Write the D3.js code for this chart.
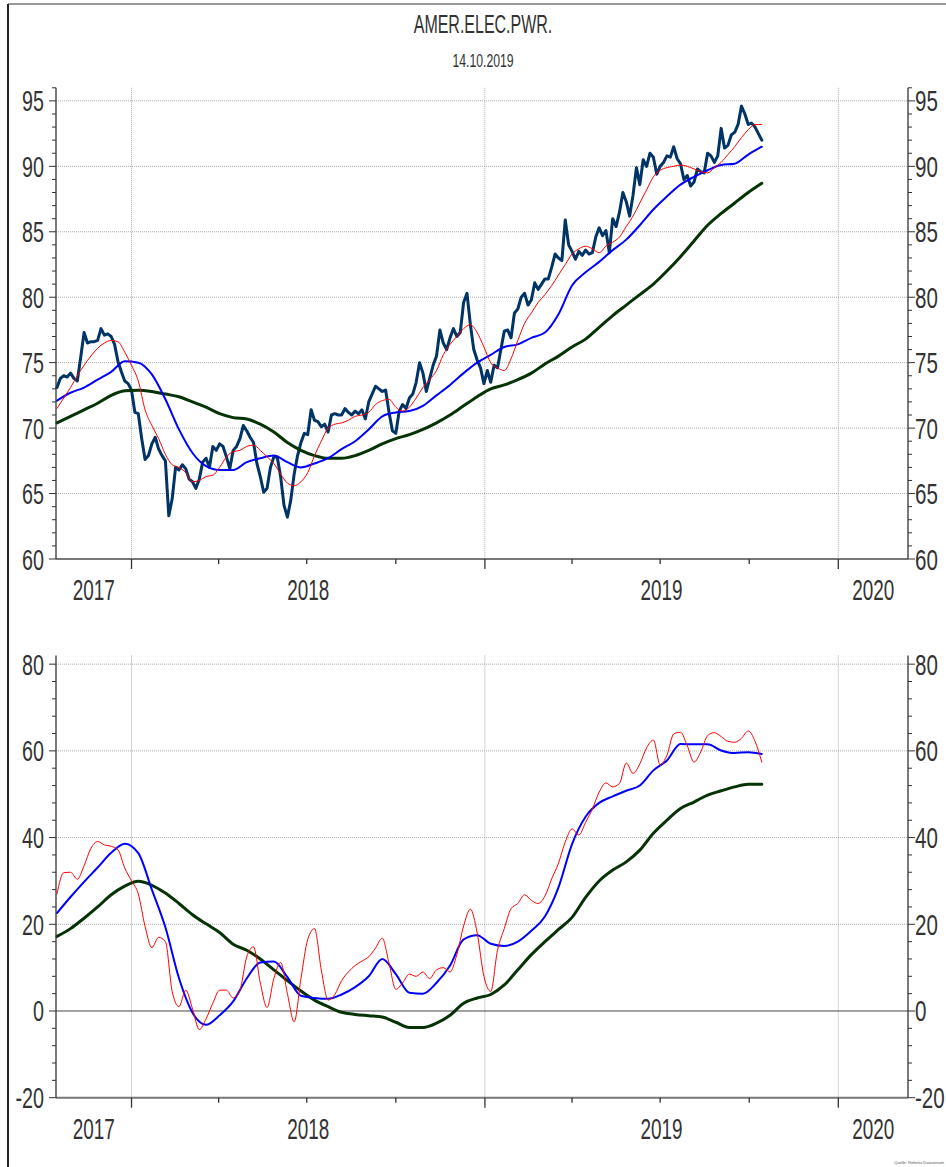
<!DOCTYPE html>
<html><head><meta charset="utf-8">
<script src="https://cdn.jsdelivr.net/npm/d3@7"></script>
<style>body{margin:0;background:#fff}svg{display:block}</style>
</head><body>
<script>
// ---------- DATA ----------
const titleText = "AMER.ELEC.PWR.";
const dateText = "14.10.2019";
const footerText = "Quelle: Refinitiv Datastream";
const yearLabels = [2017, 2018, 2019, 2020];
const topTicks = [60, 65, 70, 75, 80, 85, 90, 95];
const bottomTicks = [-20, 0, 20, 40, 60, 80];

// price: every 3.5 days starting 2017-10-16
const priceStart = "2017-10-16";
const priceStepDays = 3.5;
const priceValues = [
73.1,73.8,74.0,73.9,74.2,73.8,73.6,75.4,77.3,76.5,
76.6,76.6,76.7,77.6,77.1,77.2,77.0,76.4,75.1,74.3,
73.6,73.4,72.9,71.2,71.1,69.2,67.6,67.9,68.8,69.3,
68.4,67.9,67.5,63.3,64.6,67.0,66.8,67.2,66.9,66.1,
65.9,65.4,66.1,67.4,67.7,67.0,68.6,68.3,68.8,68.6,
67.8,66.9,68.3,68.6,69.2,70.2,69.8,69.3,68.9,67.3,
66.3,65.1,65.4,67.0,67.8,67.8,66.3,64.1,63.2,64.5,
66.5,67.9,68.9,69.6,69.5,71.4,70.6,70.5,70.1,70.3,
69.7,71.0,71.1,71.0,
71.0,71.5,71.2,71.0,71.3,71.1,71.4,70.7,72.0,72.6,
73.2,73.0,72.8,72.9,71.2,69.8,69.6,71.3,71.8,71.5,
72.3,72.6,73.5,75.0,74.2,72.8,73.8,74.8,75.5,77.5,
76.5,76.0,76.9,77.6,77.0,77.3,79.6,80.3,77.9,76.0,
75.2,74.6,73.4,74.4,73.5,74.8,74.6,
76.0,77.4,77.5,76.9,78.8,79.1,80.0,80.3,79.4,79.8,
81.1,80.6,81.0,81.4,81.4,82.3,83.3,83.0,82.8,85.9,
84.0,83.5,82.9,83.5,83.2,83.6,83.3,83.4,84.6,85.3,
84.7,85.1,83.4,86.0,85.4,86.5,88.0,87.3,86.2,87.8,
89.9,88.6,90.5,90.0,91.0,90.7,89.4,90.0,90.3,90.8,
90.7,91.5,90.6,90.2,89.0,89.3,88.5,88.8,89.8,89.6,
89.5,91.0,90.8,90.3,90.8,92.9,91.4,91.6,92.4,92.6,
93.2,94.6,94.0,93.2,93.3,93.0,92.5,92.0
];

// weekly series starting 2017-10-16
const weeklyStart = "2017-10-16";
const topRed = [
71.5,72.3,73.1,74.0,74.8,75.5,76.1,76.5,76.7,76.6,
75.8,74.8,73.6,71.4,70.2,69.2,68.0,67.2,67.0,66.6,
65.9,66.0,66.3,66.4,67.0,67.8,68.2,68.3,68.6,68.7,
68.3,67.8,67.3,66.5,65.8,65.6,65.9,66.6,67.9,69.0,
70.0,70.3,70.4,70.6,70.9,71.0,71.2,71.8,72.1,72.2,
71.6,71.3,71.6,72.3,73.1,73.7,74.4,75.6,76.4,77.0,
77.6,77.9,77.3,76.2,75.0,74.6,74.4,75.3,76.7,78.0,
78.8,79.6,80.2,80.9,81.7,82.5,83.3,83.7,83.9,83.7,
83.4,83.9,84.2,84.6,85.4,86.2,87.2,88.2,89.2,89.7,
89.9,90.0,90.1,90.0,89.8,89.6,89.5,89.9,90.3,90.9,
91.5,92.2,92.8,93.2,93.2
];
const bottomRed = [
27.0,31.9,32.0,30.4,33.5,37.5,39.1,38.3,38.0,37.2,
33.0,30.0,27.0,19.5,14.6,17.0,16.0,4.5,1.0,4.8,
0.5,-4.3,-1.8,1.8,4.8,4.8,3.0,4.8,12.5,14.8,
6.5,0.8,7.5,11.2,4.0,-2.5,7.5,16.5,19.0,9.5,
2.5,3.8,7.0,9.0,10.5,11.5,12.5,14.5,16.8,11.0,
5.0,6.5,8.5,8.0,9.0,7.5,9.5,10.0,9.0,13.0,
19.6,23.5,18.0,8.0,4.5,14.0,19.0,23.6,24.8,26.8,
25.5,24.8,26.5,30.5,34.1,39.0,42.0,40.6,43.5,46.6,
50.5,52.6,51.7,52.5,57.2,54.8,57.0,60.7,62.5,56.8,
59.0,63.9,64.3,61.2,57.4,59.8,63.5,64.2,63.3,62.2,
62.0,62.9,64.6,62.2,57.4
];

// bi-weekly series starting 2017-10-16
const biweeklyStart = "2017-10-16";
const topBlue = [
72.1,72.7,73.1,73.7,74.3,75.1,75.0,74.1,72.2,69.9,
68.1,67.1,66.8,66.8,67.4,67.7,67.9,67.4,67.0,67.3,
67.7,68.4,69.0,69.9,70.9,71.2,71.3,71.7,72.5,73.3,
74.2,75.0,75.6,76.2,76.4,76.9,77.3,78.7,80.9,81.9,
82.7,83.6,84.4,85.5,86.7,87.7,88.6,89.2,89.7,90.1,
90.2,90.9,91.5
];
const topGreen = [
70.4,70.9,71.4,71.9,72.5,72.85,72.9,72.8,72.6,72.4,
72.0,71.6,71.1,70.8,70.7,70.3,69.7,68.9,68.3,67.9,
67.7,67.7,67.9,68.3,68.8,69.2,69.5,69.9,70.4,71.0,
71.7,72.4,73.0,73.3,73.7,74.2,74.9,75.5,76.2,76.8,
77.7,78.6,79.4,80.2,81.0,82.0,83.1,84.3,85.5,86.4,
87.2,88.0,88.7
];
const bottomBlue = [
22.6,26.3,29.8,33.1,36.5,38.6,36.4,28.0,19.3,7.6,
-0.4,-3.2,-1.0,2.2,7.5,11.2,11.4,7.8,3.5,3.0,
2.8,3.8,5.5,8.0,12.0,8.5,4.2,4.0,6.5,10.5,
16.5,17.5,15.5,15.0,16.0,18.5,21.8,28.5,38.5,44.8,
48.0,49.5,50.8,52.0,55.5,57.8,61.6,61.5,61.5,60.1,
59.5,59.7,59.3
];
const bottomGreen = [
17.2,19.0,21.4,24.0,26.8,28.8,29.9,29.0,27.2,24.8,
22.2,20.1,18.1,15.4,14.0,12.0,9.5,7.0,4.6,2.5,
1.0,-0.3,-0.8,-1.1,-1.4,-2.6,-3.8,-3.8,-2.8,-1.0,
1.8,3.0,3.8,6.0,9.5,13.0,16.0,18.8,21.6,26.2,
30.0,32.5,34.4,37.1,41.0,44.0,46.7,48.2,49.8,50.8,
51.7,52.3,52.3
];

// ---------- CHART ----------
const W = 946, H = 1167;
const FONT = '"Liberation Sans", Arial, Helvetica, sans-serif';
const TXT = "#333";
const DAY = 86400000;
const parse = s => new Date(s + "T00:00:00Z");
const seq = (start, stepDays, n) => d3.range(n).map(i => new Date(parse(start).getTime() + i * stepDays * DAY));

const svg = d3.select("body").append("svg").attr("width", W).attr("height", H);

function label(g, x, y, s, size, anchor, sx) {
  g.append("text")
    .attr("transform", `translate(${x},${y}) scale(${sx},1)`)
    .attr("text-anchor", anchor)
    .attr("font-family", FONT)
    .attr("font-size", size)
    .attr("fill", TXT)
    .text(s);
}

// frame
svg.append("line").attr("x1", 8).attr("x2", W).attr("y1", 4).attr("y2", 4).attr("stroke", "#777").attr("stroke-width", 1.5);
svg.append("line").attr("x1", 8).attr("x2", 8).attr("y1", 4).attr("y2", H).attr("stroke", "#222").attr("stroke-width", 2);

// titles
label(svg, 483, 33, titleText, 25, "middle", 0.64);
label(svg, 483, 67, dateText, 18, "middle", 0.68);
svg.append("text").attr("x", 944).attr("y", 1164).attr("text-anchor", "end")
  .attr("font-family", FONT).attr("font-size", 4).attr("fill", "#555").text(footerText);

const x = d3.scaleUtc().domain([parse("2017-10-15"), parse("2020-03-13")]).range([56, 908]);
const X0 = 56, X1 = 908;

function panel(cfg) {
  const g = svg.append("g");
  const y = d3.scaleLinear().domain(cfg.domain).range([cfg.bottom, cfg.top]);

  // vertical gridlines at year starts
  const years = yearLabels.map(yr => parse(yr + "-01-01")).filter(d => d > x.domain()[0] && d < x.domain()[1]);
  g.selectAll(null).data(years).enter().append("line")
    .attr("x1", d => x(d)).attr("x2", d => x(d))
    .attr("y1", cfg.top).attr("y2", cfg.bottom)
    .attr("stroke", "#aaa").attr("stroke-width", 1).attr("stroke-dasharray", "1,1");

  // horizontal gridlines
  g.selectAll(null).data(cfg.ticks.filter(t => t !== cfg.domain[0] && t !== 0)).enter().append("line")
    .attr("x1", X0).attr("x2", X1).attr("y1", d => y(d)).attr("y2", d => y(d))
    .attr("stroke", "#aaa").attr("stroke-width", 1).attr("stroke-dasharray", "1,1");
  if (cfg.zero) {
    g.append("line").attr("x1", X0).attr("x2", X1).attr("y1", y(0)).attr("y2", y(0))
      .attr("stroke", "#444").attr("stroke-width", 1);
  }

  // series
  cfg.series.forEach(s => {
    const line = d3.line().x(d => x(d[0])).y(d => y(d[1])).curve(s.curve);
    g.append("path").datum(s.dates.map((d, i) => [d, s.values[i]]))
      .attr("d", line).attr("fill", "none")
      .attr("stroke", s.color).attr("stroke-width", s.width)
      .attr("stroke-linejoin", "round").attr("stroke-linecap", "round");
  });

  // axes lines
  g.append("line").attr("x1", X0).attr("x2", X1).attr("y1", cfg.bottom).attr("y2", cfg.bottom)
    .attr("stroke", "#777").attr("stroke-width", 2);
  [X0, X1].forEach(xx => g.append("line").attr("x1", xx).attr("x2", xx).attr("y1", cfg.top).attr("y2", cfg.bottom)
    .attr("stroke", "#333").attr("stroke-width", 1.3));

  // y ticks (minor + major) both sides
  const minor = d3.range(cfg.domain[0], cfg.domain[1] + 0.001, cfg.minorStep);
  minor.forEach(v => {
    const major = cfg.ticks.includes(v);
    const len = major ? 7 : 4;
    g.append("line").attr("x1", X0 - len).attr("x2", X0).attr("y1", y(v)).attr("y2", y(v)).attr("stroke", "#333").attr("stroke-width", 1);
    g.append("line").attr("x1", X1).attr("x2", X1 + len).attr("y1", y(v)).attr("y2", y(v)).attr("stroke", "#333").attr("stroke-width", 1);
  });
  cfg.ticks.forEach(v => {
    label(g, 44, y(v) + 10.5, String(v), 29, "end", 0.68);
    label(g, 915, y(v) + 10.5, String(v), 29, "start", 0.71);
  });

  // x ticks: quarters, longer at year start
  const quarters = d3.utcMonth.every(3).range(x.domain()[0], x.domain()[1]);
  quarters.forEach(d => {
    const len = d.getUTCMonth() === 0 ? 10 : 5;
    g.append("line").attr("x1", x(d)).attr("x2", x(d)).attr("y1", cfg.bottom).attr("y2", cfg.bottom + len)
      .attr("stroke", "#333").attr("stroke-width", 1.3);
  });
  // year labels centred on visible part of each year
  yearLabels.forEach(yr => {
    const a = Math.max(x(parse(yr + "-01-01")), X0);
    const b = Math.min(x(parse((yr + 1) + "-01-01")), X1);
    label(g, (a + b) / 2, cfg.bottom + 41, String(yr), 30, "middle", 0.63);
  });
}

const priceDates = seq(priceStart, priceStepDays, priceValues.length);
const weekDates = seq(weeklyStart, 7, topRed.length);
const biDates = seq(biweeklyStart, 14, topBlue.length);

panel({
  top: 87.8, bottom: 559, domain: [60, 96], ticks: topTicks, minorStep: 1, zero: false,
  series: [
    {dates: priceDates, values: priceValues, color: "#003366", width: 3, curve: d3.curveLinear},
    {dates: biDates, values: topGreen, color: "#063306", width: 3, curve: d3.curveMonotoneX},
    {dates: biDates, values: topBlue, color: "#0000ff", width: 2, curve: d3.curveMonotoneX},
    {dates: weekDates, values: topRed, color: "#ff0000", width: 1, curve: d3.curveMonotoneX}
  ]
});
panel({
  top: 655.5, bottom: 1097.7, domain: [-20, 82], ticks: bottomTicks, minorStep: 4, zero: true,
  series: [
    {dates: biDates, values: bottomGreen, color: "#063306", width: 3, curve: d3.curveMonotoneX},
    {dates: biDates, values: bottomBlue, color: "#0000ff", width: 2, curve: d3.curveMonotoneX},
    {dates: weekDates, values: bottomRed, color: "#ff0000", width: 1, curve: d3.curveMonotoneX}
  ]
});
</script>
</body></html>
